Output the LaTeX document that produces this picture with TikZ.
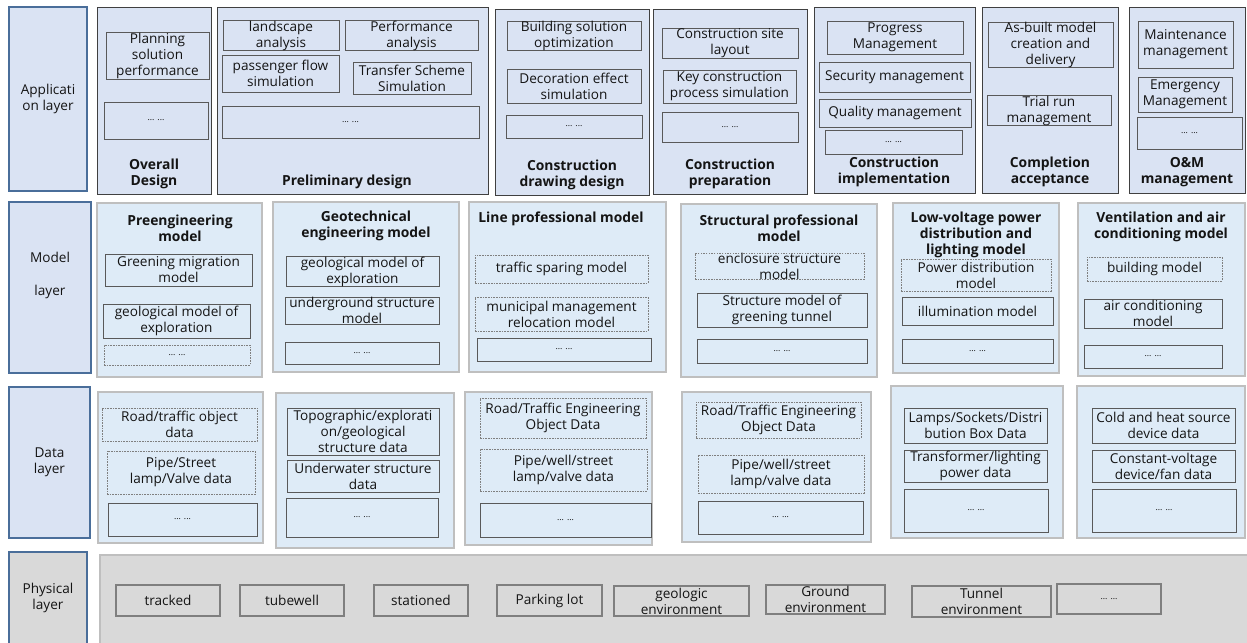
\documentclass[tikz,border=0pt]{standalone}
\usepackage{fontspec}
\setmainfont{Open Sans}
\definecolor{appfill}{HTML}{DAE3F3}
\definecolor{appdraw}{HTML}{404040}
\definecolor{lbldraw}{HTML}{4A6E9A}
\definecolor{modfill}{HTML}{DEEBF7}
\definecolor{moddraw}{HTML}{BFBFBF}
\definecolor{indraw}{HTML}{595959}
\definecolor{dashdraw}{HTML}{7F7F7F}
\definecolor{phyfill}{HTML}{D9D9D9}
\definecolor{txtc}{HTML}{141414}
\tikzset{
  base/.style={rectangle, inner sep=0pt, outer sep=0pt, align=center, text=txtc,
    font=\fontsize{10.2}{12}\selectfont},
  lblbox/.style={base, fill=appfill, draw=lbldraw, line width=0.9pt},
  appbox/.style={base, fill=appfill, draw=appdraw, line width=0.7pt},
  modbox/.style={base, fill=modfill, draw=moddraw, line width=0.9pt},
  phybox/.style={base, fill=phyfill, draw=moddraw, line width=0.9pt},
  inbox/.style={base, draw=indraw, line width=0.6pt},
  dbox/.style={base, draw=dashdraw, line width=0.5pt, dash pattern=on 1.2pt off 0.8pt},
  pbox/.style={base, draw=dashdraw, line width=0.8pt},
  dots/.style={font=\fontsize{6.5}{8}\selectfont},
  ttl/.style={base, font=\fontsize{10.4}{12}\selectfont\bfseries},
}
% name, style, x1, y1, x2, y2, text   (pixel coordinates, y downward)
\newcommand\bx[7]{\node[#2, minimum width={(#5-#3)*0.75pt}, minimum height={(#6-#4)*0.75pt}] (#1) at ({(#3+#5)/2},{(#4+#6)/2}) {#7};}
\begin{document}
\begin{tikzpicture}[x=0.75pt,y=-0.75pt]
\useasboundingbox (0,0) rectangle (1247,643);
% ---------------- Application layer ----------------
\bx{applbl}{lblbox}{9}{7}{87}{191}{Applicati\\on layer}
\bx{od}{appbox}{97}{7}{211}{194}{}
\bx{pd}{appbox}{217}{7}{488}{194}{}
\bx{cdd}{appbox}{495}{9}{649}{195}{}
\bx{cp}{appbox}{653}{9}{807}{194}{}
\bx{ci}{appbox}{814}{7}{975}{193}{}
\bx{ca}{appbox}{982}{7}{1118}{193}{}
\bx{om}{appbox}{1129}{7}{1245}{193}{}
\node[ttl] (odt) at (154,174) {Overall\\Design};
\node[ttl] (pdt) at (347,182) {Preliminary design};
\node[ttl] (cddt) at (572,174.5) {Construction\\drawing design};
\node[ttl] (cpt) at (730,174) {Construction\\preparation};
\node[ttl] (cit) at (894,172) {Construction\\implementation};
\node[ttl] (cat) at (1050,172) {Completion\\acceptance};
\node[ttl] (omt) at (1187,172) {O\&M\\management};
\bx{od1}{inbox}{106}{32}{209}{79}{Planning\\solution\\performance}
\bx{od2}{inbox,dots}{104}{102}{208}{139}{... ...}
\bx{pd1}{inbox}{223}{22}{339}{49}{landscape\\analysis}
\bx{pd2}{inbox}{345}{22}{478}{49}{Performance\\analysis}
\bx{pd3}{inbox}{222}{55}{339}{92}{passenger flow\\simulation}
\bx{pd4}{inbox}{353}{62}{471}{94}{Transfer Scheme\\Simulation}
\bx{pd5}{inbox,dots}{222}{106}{479}{138}{... ...}
\bx{cdd1}{inbox}{507}{23}{641}{49}{Building solution\\optimization}
\bx{cdd2}{inbox}{507}{69}{641}{103}{Decoration effect\\simulation}
\bx{cdd3}{inbox,dots}{506}{115}{642}{138}{... ...}
\bx{cp1}{inbox}{662}{28}{798}{58}{Construction site\\layout}
\bx{cp2}{inbox}{663}{70}{796}{103}{Key construction\\process simulation}
\bx{cp3}{inbox,dots}{662}{112}{798}{142}{... ...}
\bx{ci1}{inbox}{827}{21}{963}{54}{Progress\\Management}
\bx{ci2}{inbox}{819}{62}{970}{92}{Security management}
\bx{ci3}{inbox}{819}{99}{971}{127}{Quality management}
\bx{ci4}{inbox,dots}{825}{130}{962}{154}{... ...}
\bx{ca1}{inbox}{988}{25}{1113}{65}{As-built model\\creation and\\delivery}
\bx{ca2}{inbox}{987}{96}{1111}{125}{Trial run\\management}
\bx{om1}{inbox}{1138}{21}{1233}{68}{Maintenance\\management}
\bx{om2}{inbox}{1138}{77}{1232}{112}{Emergency\\Management}
\bx{om3}{inbox,dots}{1137}{117}{1242}{149}{... ...}
% ---------------- Model layer ----------------
\bx{mlbl}{lblbox}{9}{202}{91}{373}{}
\node[base] (mlblt) at (50,275.5) {Model\\[13pt]layer};
\bx{pe}{modbox}{97}{203}{262}{377}{}
\bx{ge}{modbox}{273}{202}{459}{372}{}
\bx{lp}{modbox}{469}{202}{666}{372}{}
\bx{sp}{modbox}{681}{204}{877}{377}{}
\bx{lv}{modbox}{893}{203}{1059}{373}{}
\bx{va}{modbox}{1078}{203}{1245}{376}{}
\node[ttl] (pet) at (180,228) {Preengineering\\model};
\node[ttl] (get) at (366,226) {Geotechnical\\engineering model};
\node[ttl] (lpt) at (561,219) {Line professional model};
\node[ttl] (spt) at (779,228) {Structural professional\\model};
\node[ttl] (lvt) at (976,234.5) {Low-voltage power\\distribution and\\lighting model};
\node[ttl] (vat) at (1161,226.5) {Ventilation and air\\conditioning model};
\bx{pe1}{inbox}{105}{254}{252}{286}{Greening migration\\model}
\bx{pe2}{inbox}{103}{304}{250}{338}{geological model of\\exploration}
\bx{pe3}{dbox,dots}{104}{345}{250}{365}{... ...}
\bx{ge1}{inbox}{286}{257}{439}{286}{geological model of\\exploration}
\bx{ge2}{inbox}{285}{297}{439}{324}{underground structure\\model}
\bx{ge3}{inbox,dots}{285}{342}{439}{364}{... ...}
\bx{lp1}{dbox}{475}{255}{648}{283}{traffic sparing model}
\bx{lp2}{dbox}{475}{297}{648}{331}{municipal management\\relocation model}
\bx{lp3}{inbox,dots}{477}{338}{651}{361}{... ...}
\bx{sp1}{dbox}{695}{255}{864}{278}{enclosure structure\\model}
\bx{sp2}{inbox}{697}{293}{867}{327}{Structure model of\\greening tunnel}
\bx{sp3}{inbox,dots}{697}{339}{867}{363}{... ...}
\bx{lv1}{dbox}{901}{259}{1051}{291}{Power distribution\\model}
\bx{lv2}{inbox}{902}{297}{1053}{325}{illumination model}
\bx{lv3}{inbox,dots}{902}{339}{1053}{363}{... ...}
\bx{va1}{dbox}{1087}{257}{1222}{281}{building model}
\bx{va2}{inbox}{1084}{299}{1222}{328}{air conditioning\\model}
\bx{va3}{inbox,dots}{1084}{345}{1222}{368}{... ...}
% ---------------- Data layer ----------------
\bx{dlbl}{lblbox}{9}{387}{90}{538}{Data\\layer}
\bx{d1}{modbox}{98}{392}{263}{543}{}
\bx{d2}{modbox}{276}{393}{454}{548}{}
\bx{d3}{modbox}{465}{392}{652}{545}{}
\bx{d4}{modbox}{682}{392}{871}{542}{}
\bx{d5}{modbox}{891}{386}{1063}{538}{}
\bx{d6}{modbox}{1077}{386}{1245}{538}{}
\bx{d11}{dbox}{102}{408}{257}{441}{Road/traffic object\\data}
\bx{d12}{dbox}{107}{451}{255}{494}{Pipe/Street\\lamp/Valve data}
\bx{d13}{inbox,dots}{108}{503}{257}{536}{... ...}
\bx{d21}{inbox}{287}{408}{439}{455}{Topographic/explorati\\on/geological\\structure data}
\bx{d22}{inbox}{287}{460}{439}{492}{Underwater structure\\data}
\bx{d23}{inbox,dots}{286}{498}{438}{537}{... ...}
\bx{d31}{dbox}{480}{398}{646}{438}{Road/Traffic Engineering\\Object Data}
\bx{d32}{dbox}{480}{449}{647}{491}{Pipe/well/street\\lamp/valve data}
\bx{d33}{inbox,dots}{480}{503}{651}{537}{... ...}
\bx{d41}{dbox}{696}{402}{861}{438}{Road/Traffic Engineering\\Object Data}
\bx{d42}{dbox}{698}{455}{864}{493}{Pipe/well/street\\lamp/valve data}
\bx{d43}{inbox,dots}{698}{501}{863}{534}{... ...}
\bx{d51}{inbox}{904}{408}{1047}{443}{Lamps/Sockets/Distri\\bution Box Data}
\bx{d52}{inbox}{904}{450}{1047}{482}{Transformer/lighting\\power data}
\bx{d53}{inbox,dots}{904}{489}{1048}{532}{... ...}
\bx{d61}{inbox}{1092}{408}{1235}{443}{Cold and heat source\\device data}
\bx{d62}{inbox}{1092}{450}{1235}{482}{Constant-voltage\\device/fan data}
\bx{d63}{inbox,dots}{1092}{489}{1236}{532}{... ...}
% ---------------- Physical layer ----------------
\bx{plbl}{phybox,draw=lbldraw}{9}{552}{87}{646}{}
\node[base] (plblt) at (48,598) {Physical\\layer};
\bx{pg}{phybox}{100}{555}{1250}{646}{}
\bx{p1}{pbox}{116}{585}{220}{616}{tracked}
\bx{p2}{pbox}{240}{585}{344}{616}{tubewell}
\bx{p3}{pbox}{374}{585}{468}{616}{stationed}
\bx{p4}{pbox}{497}{585}{602}{616}{Parking lot}
\bx{p5}{pbox}{614}{586}{749}{616}{geologic\\environment}
\bx{p6}{pbox}{766}{585}{885}{614}{Ground\\environment}
\bx{p7}{pbox}{912}{586}{1051}{617}{Tunnel\\environment}
\bx{p8}{pbox,dots}{1057}{584}{1161}{614}{... ...}
\end{tikzpicture}
\end{document}
